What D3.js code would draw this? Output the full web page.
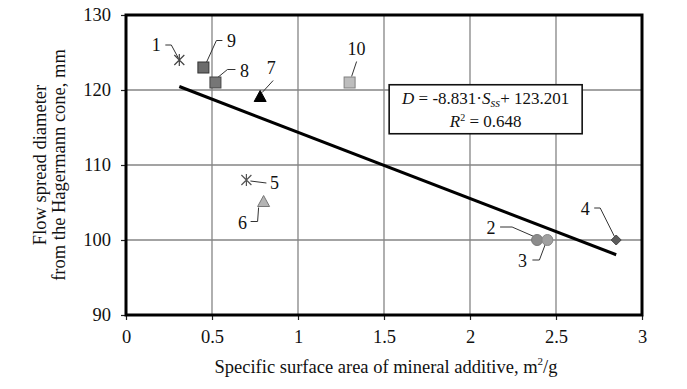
<!DOCTYPE html>
<html>
<head>
<meta charset="utf-8">
<script src="https://cdn.jsdelivr.net/npm/d3@7"></script>
<style>
  body { margin: 0; background: #fff; }
  svg text { font-family: "Liberation Serif", "Times New Roman", serif; fill: #111; }
</style>
</head>
<body>
<div id="chart"></div>
<script>
// data
const pointIds = [1, 2, 3, 4, 5, 6, 7, 8, 9, 10];
const surfaceArea = [0.31, 2.39, 2.45, 2.85, 0.70, 0.80, 0.78, 0.52, 0.45, 1.30];
const flowDiameter = [124, 100, 100, 100, 108, 105, 119, 121, 123, 121];
const xTicks = [0, 0.5, 1, 1.5, 2, 2.5, 3];
const yTicks = [90, 100, 110, 120, 130];
const trendSlope = -8.831;
const trendIntercept = 123.201;
const rSquared = 0.648;

// marker look per point
const markerStyle = {
  1: {shape: "star", fill: "none", stroke: "#444"},
  2: {shape: "circle", fill: "#8c8c8c", stroke: "#777"},
  3: {shape: "circle", fill: "#a0a0a0", stroke: "#888"},
  4: {shape: "diamond", fill: "#5c5c5c", stroke: "#444"},
  5: {shape: "star", fill: "none", stroke: "#555"},
  6: {shape: "triangle", fill: "#b4b4b4", stroke: "#777"},
  7: {shape: "triangle", fill: "#000", stroke: "#000"},
  8: {shape: "square", fill: "#767676", stroke: "#444"},
  9: {shape: "square", fill: "#6c6c6c", stroke: "#333"},
  10: {shape: "square", fill: "#bdbdbd", stroke: "#808080"}
};

// label offset (from marker) and leader polyline
const labelPos = {
  1: {dx: -23, dy: -15, lead: [[-14, -15], [-8, -15], [-1, -2]]},
  2: {dx: -46, dy: -12, lead: [[-37, -13], [-25, -13], [-2, -3]]},
  3: {dx: -25, dy: 21, lead: [[-15, 20], [-8, 20], [-2, 4]]},
  4: {dx: -31, dy: -31, lead: [[-22, -32], [-16, -32], [-1, -2]]},
  5: {dx: 28, dy: 3, lead: [[20, 3], [4, 1]]},
  6: {dx: -21, dy: 20, lead: [[-13, 19], [-6, 19], [-5, 5]]},
  7: {dx: 11, dy: -30, lead: [[13, -17], [2, -5]]},
  8: {dx: 29, dy: -12, lead: [[20, -13], [12, -13], [1, -4]]},
  9: {dx: 28, dy: -27, lead: [[19, -27], [13, -27], [3, -5]]},
  10: {dx: 7, dy: -34, lead: [[7, -21], [2, -6]]}
};

const W = 687, H = 389;
const margin = {top: 15, right: 45, bottom: 74, left: 126};
const width = W - margin.left - margin.right,
  height = H - margin.top - margin.bottom;

const svg = d3.select("#chart").append("svg")
  .attr("width", W).attr("height", H)
.append("g")
  .attr("transform", "translate(" + margin.left + "," + margin.top + ")");

const x = d3.scaleLinear().domain([0, 3]).range([0, width]);
const y = d3.scaleLinear().domain([90, 130]).range([height, 0]);

// grid
svg.append("g").selectAll("line")
  .data(xTicks.slice(1, -1)).enter().append("line")
  .attr("x1", d => x(d)).attr("x2", d => x(d))
  .attr("y1", 0).attr("y2", height)
  .attr("stroke", "#858585").attr("stroke-width", 1.3);
svg.append("g").selectAll("line")
  .data(yTicks.slice(1, -1)).enter().append("line")
  .attr("y1", d => y(d)).attr("y2", d => y(d))
  .attr("x1", 0).attr("x2", width)
  .attr("stroke", "#858585").attr("stroke-width", 1.3);

// axes
const xAxis = svg.append("g")
  .attr("transform", "translate(0," + height + ")")
  .call(d3.axisBottom(x).tickValues(xTicks).tickSize(5).tickPadding(10)
    .tickFormat(d => String(d)));
const yAxis = svg.append("g")
  .call(d3.axisLeft(y).tickValues(yTicks).tickSize(5).tickPadding(10));
[xAxis, yAxis].forEach(a => {
  a.attr("font-family", null).attr("font-size", null);
  a.select(".domain").remove();
  a.selectAll(".tick line").attr("stroke", "#222").attr("stroke-width", 1.2);
  a.selectAll(".tick text")
    .style("font-family", "'Liberation Serif', serif")
    .style("font-size", "18.5px").attr("fill", "#111");
});

// frame
svg.append("rect")
  .attr("x", 0).attr("y", 0).attr("width", width).attr("height", height)
  .attr("fill", "none").attr("stroke", "#000").attr("stroke-width", 3);

// trend line
const ext = d3.extent(surfaceArea);
svg.append("line")
  .attr("x1", x(ext[0])).attr("y1", y(trendSlope * ext[0] + trendIntercept))
  .attr("x2", x(ext[1])).attr("y2", y(trendSlope * ext[1] + trendIntercept))
  .attr("stroke", "#000").attr("stroke-width", 3);

// equation box
const box = svg.append("g").attr("transform", "translate(" + (x(1.53)) + "," + (y(120.7)) + ")");
box.append("rect").attr("width", 193).attr("height", 49)
  .attr("fill", "#fff").attr("stroke", "#111").attr("stroke-width", 1.6);
const eq = box.append("text").attr("x", 96.5).attr("y", 19)
  .attr("text-anchor", "middle").style("font-size", "17px");
eq.append("tspan").attr("font-style", "italic").text("D");
eq.append("tspan").text(" = " + trendSlope.toFixed(3) + "\u00b7");
eq.append("tspan").attr("font-style", "italic").text("S");
eq.append("tspan").attr("font-style", "italic").attr("font-size", "12.5px").attr("dy", 3).text("ss");
eq.append("tspan").attr("dy", -3).text("+ " + trendIntercept.toFixed(3));
const r2 = box.append("text").attr("x", 96.5).attr("y", 42)
  .attr("text-anchor", "middle").style("font-size", "17px");
r2.append("tspan").attr("font-style", "italic").text("R");
r2.append("tspan").attr("font-size", "10px").attr("dy", -6).text("2");
r2.append("tspan").attr("dy", 6).text(" = " + rSquared.toFixed(3));

// points
const pts = pointIds.map((id, i) => ({id: id, s: surfaceArea[i], d: flowDiameter[i]}));

// leaders + labels
const lab = svg.append("g");
pts.forEach(p => {
  const px = x(p.s), py = y(p.d), L = labelPos[p.id];
  lab.append("path")
    .attr("d", d3.line()(L.lead.map(q => [px + q[0], py + q[1]])))
    .attr("fill", "none").attr("stroke", "#333").attr("stroke-width", 1);
  lab.append("text")
    .attr("x", px + L.dx).attr("y", py + L.dy)
    .attr("text-anchor", "middle").attr("dominant-baseline", "central")
    .style("font-size", "18px").text(p.id);
});

const marks = svg.append("g");
pts.forEach(p => {
  const st = markerStyle[p.id];
  const g = marks.append("g").attr("transform", "translate(" + x(p.s) + "," + y(p.d) + ")");
  if (st.shape === "star") {
    g.append("path").attr("d", "M-5,-5L5,5M-5,5L5,-5M0,-6L0,6")
      .attr("stroke", st.stroke).attr("stroke-width", 1.2);
  } else if (st.shape === "square") {
    g.append("rect").attr("x", -5.5).attr("y", -5.5).attr("width", 11).attr("height", 11)
      .attr("fill", st.fill).attr("stroke", st.stroke).attr("stroke-width", 1);
  } else if (st.shape === "circle") {
    g.append("circle").attr("r", 5.5)
      .attr("fill", st.fill).attr("stroke", st.stroke).attr("stroke-width", 1);
  } else if (st.shape === "diamond") {
    g.append("path").attr("d", "M0,-5L5,0L0,5L-5,0Z")
      .attr("fill", st.fill).attr("stroke", st.stroke).attr("stroke-width", 1);
  } else if (st.shape === "triangle") {
    g.append("path").attr("d", "M0,-7L6,4L-6,4Z")
      .attr("fill", st.fill).attr("stroke", st.stroke).attr("stroke-width", 1);
  }
});

// axis titles
const xt = svg.append("text")
  .attr("x", (386 - margin.left)).attr("y", 367 - margin.top)
  .attr("text-anchor", "middle").attr("dominant-baseline", "central")
  .style("font-size", "18.5px");
xt.append("tspan").text("Specific surface area of mineral additive, m");
xt.append("tspan").attr("font-size", "11px").attr("dy", -6).text("2");
xt.append("tspan").attr("dy", 6).text("/g");

const yt = svg.append("text")
  .attr("transform", "translate(" + (40 - margin.left) + "," + (165 - margin.top) + ") rotate(-90)")
  .attr("text-anchor", "middle").style("font-size", "18.5px");
yt.append("tspan").attr("x", 0).attr("dy", "0.35em").text("Flow spread diameter");
yt.append("tspan").attr("x", 0).attr("dy", 19).text("from the Hagermann cone, mm");
</script>
</body>
</html>
